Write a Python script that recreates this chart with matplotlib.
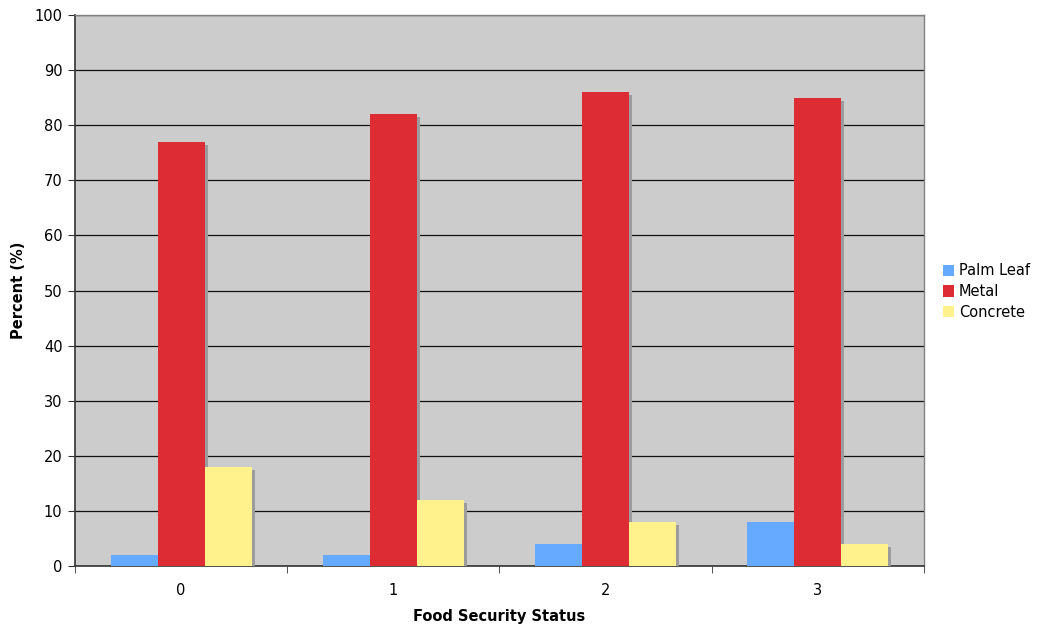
import matplotlib.pyplot as plt
import matplotlib.patheffects as pe
from matplotlib.patches import Patch
import numpy as np

plt.rcParams['font.family'] = ['DejaVu Sans']

status = ['0', '1', '2', '3']
palm_leaf = [2, 2, 4, 8]
metal = [77, 82, 86, 85]
concrete = [18, 12, 8, 4]

series = [('Palm Leaf', palm_leaf, '#66aaff'),
          ('Metal', metal, '#dd2c33'),
          ('Concrete', concrete, '#fff28c')]

fig = plt.figure(figsize=(10.41, 6.31), dpi=100)
ax = fig.add_axes([0.072, 0.103, 0.8155, 0.873])
ax.set_facecolor('#cccccc')

x = np.arange(len(status))
w = 0.2215
shadow = [pe.SimplePatchShadow(offset=(2.2, -2.2), shadow_rgbFace='#9c9c9c', alpha=1.0), pe.Normal()]
for i, (name, vals, col) in enumerate(series):
    bars = ax.bar(x + (i - 1) * w, vals, w, color=col, zorder=3, linewidth=0)
    for b in bars:
        b.set_path_effects(shadow)

ax.set_xlim(-0.5, 3.5)
ax.set_ylim(0, 100)
ax.set_yticks(range(0, 101, 10))
ax.yaxis.grid(True, color='#111111', linewidth=0.9, zorder=1)
ax.set_axisbelow(True)

ax.set_xticks(x)
ax.set_xticklabels(status)
ax.set_xticks(np.arange(-0.5, 4, 1), minor=True)
ax.tick_params(axis='x', which='major', length=0, pad=12, labelsize=10.5)
ax.tick_params(axis='x', which='minor', length=5, color='#333333')
ax.tick_params(axis='y', length=5, color='#333333', labelsize=10.5, pad=4)

for s in ['top', 'right']:
    ax.spines[s].set_color('#808080')
    ax.spines[s].set_linewidth(1)
for s in ['left', 'bottom']:
    ax.spines[s].set_color('#333333')
    ax.spines[s].set_linewidth(1.2)

ax.set_xlabel('Food Security Status', fontsize=10.5, fontweight='bold', labelpad=8)
ax.set_ylabel('Percent (%)', fontsize=10.5, fontweight='bold', labelpad=6)

handles = [Patch(facecolor=c, edgecolor='none', label=n) for n, _, c in series]
fig.legend(handles=handles, loc='center left', bbox_to_anchor=(0.9, 0.538),
           frameon=False, fontsize=10.5, handlelength=0.8, handleheight=0.8,
           handletextpad=0.3, labelspacing=0.4, borderaxespad=0)

fig.savefig('out.png', dpi=100)
